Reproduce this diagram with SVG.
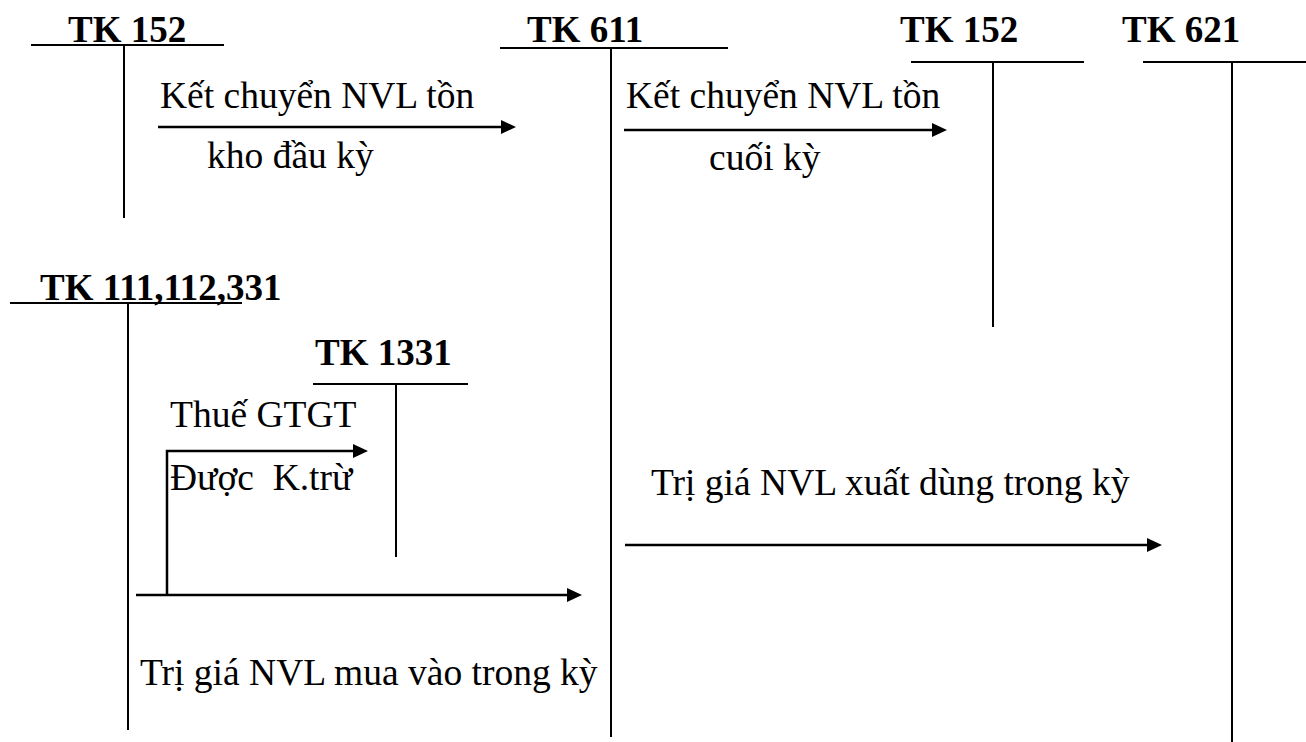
<svg xmlns="http://www.w3.org/2000/svg" width="1306" height="742" viewBox="0 0 1306 742">
<style>
.bg{fill:#fff}
.t{font-family:"Liberation Serif","Times New Roman",serif;font-size:37.5px;fill:#000;white-space:pre}
.b{font-weight:bold;font-size:37px}
.ln{stroke:#000;stroke-width:2;fill:none}
.ar{stroke:#000;stroke-width:2.5;fill:none;marker-end:url(#ah)}
</style>
<defs>
<marker id="ah" markerUnits="userSpaceOnUse" markerWidth="16" markerHeight="16" refX="5" refY="7" orient="auto">
<path d="M0,0 L15,7 L0,14 Z" fill="#000"/>
</marker>
</defs>
<rect class="bg" x="0" y="0" width="1306" height="742"/>
<g id="tk152-left">
<text class="t b" x="68" y="42">TK 152</text>
<line class="ln" x1="31" y1="45" x2="224" y2="45"/>
<line class="ln" x1="124" y1="45" x2="124" y2="218"/>
</g>
<g id="tk611">
<text class="t b" x="527" y="42">TK 611</text>
<line class="ln" x1="500" y1="48" x2="728" y2="48"/>
<line class="ln" x1="611" y1="48" x2="611" y2="737"/>
</g>
<g id="tk152-right">
<text class="t b" x="900" y="42">TK 152</text>
<line class="ln" x1="911" y1="62" x2="1084" y2="62"/>
<line class="ln" x1="993" y1="62" x2="993" y2="327"/>
</g>
<g id="tk621">
<text class="t b" x="1122" y="42">TK 621</text>
<line class="ln" x1="1143" y1="62" x2="1306" y2="62"/>
<line class="ln" x1="1232" y1="62" x2="1232" y2="742"/>
</g>
<g id="tk111">
<text class="t b" x="40" y="300">TK 111,112,331</text>
<line class="ln" x1="10" y1="303" x2="242" y2="303"/>
<line class="ln" x1="128" y1="303" x2="128" y2="730"/>
</g>
<g id="tk1331">
<text class="t b" x="315" y="365">TK 1331</text>
<line class="ln" x1="313" y1="384" x2="468" y2="384"/>
<line class="ln" x1="396" y1="384" x2="396" y2="557"/>
</g>
<g id="connectors">
<line class="ar" x1="158" y1="127" x2="506" y2="127"/>
<line class="ar" x1="624" y1="130" x2="937" y2="130"/>
<polyline class="ar" points="167,595 167,451 358,451"/>
<line class="ar" x1="136" y1="595" x2="572" y2="595"/>
<line class="ar" x1="625" y1="545" x2="1152" y2="545"/>
</g>
<g id="labels">
<text class="t" x="160" y="108">Kết chuyển NVL tồn</text>
<text class="t" x="207" y="168">kho đầu kỳ</text>
<text class="t" x="626" y="108">Kết chuyển NVL tồn</text>
<text class="t" x="709" y="170">cuối kỳ</text>
<text class="t" x="170" y="427">Thuế GTGT</text>
<text class="t" x="170" y="490">Được  K.trừ</text>
<text class="t" x="651" y="495">Trị giá NVL xuất dùng trong kỳ</text>
<text class="t" x="140" y="685">Trị giá NVL mua vào trong kỳ</text>
</g>
</svg>
